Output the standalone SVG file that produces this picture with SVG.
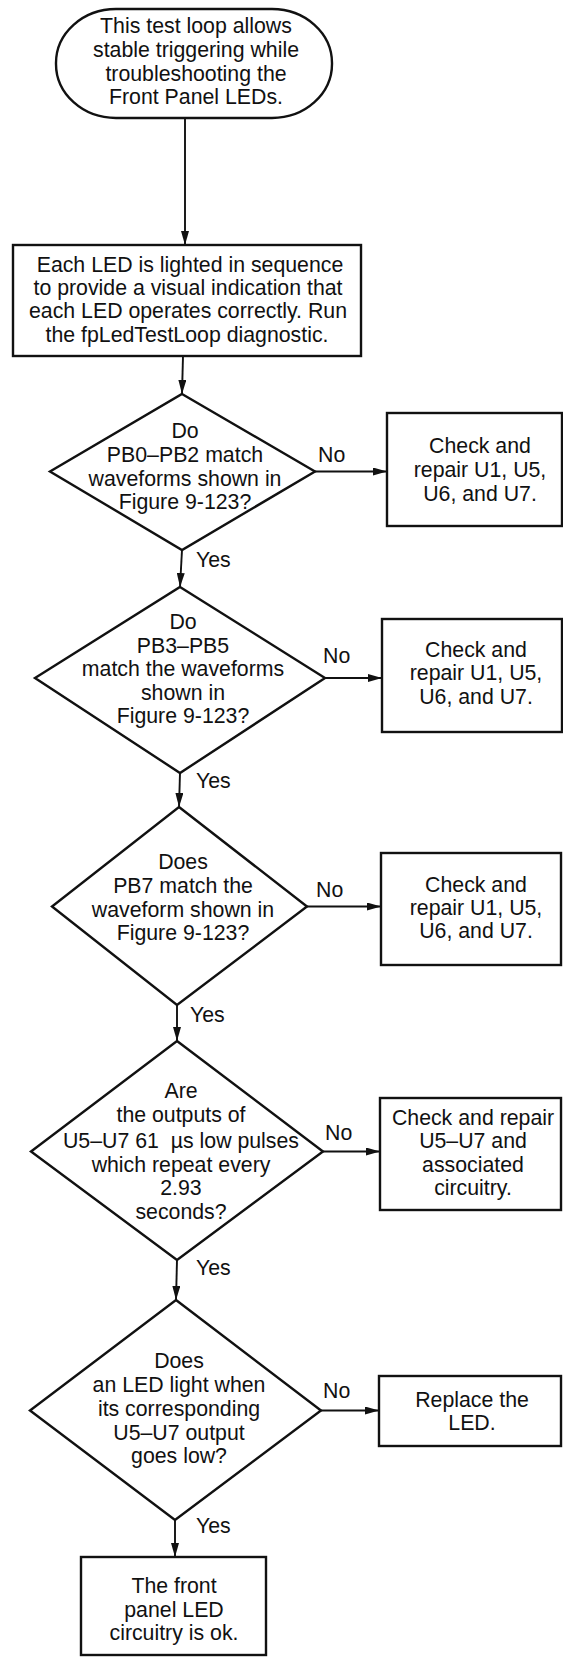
<svg xmlns="http://www.w3.org/2000/svg" width="563" height="1657" viewBox="0 0 563 1657">
<defs>
<style>
.shape{fill:#fff;stroke:#111;stroke-width:2.4}
.conn{fill:none;stroke:#111;stroke-width:1.9}
text{font-family:"Liberation Sans",Arial,Helvetica,sans-serif;font-size:21.3px;fill:#111;text-anchor:middle}
.lbl{text-anchor:start}
</style>
<marker id="ah" viewBox="0 0 14 8" refX="14" refY="4" markerWidth="14" markerHeight="8" markerUnits="userSpaceOnUse" orient="auto">
<path d="M0,0 L14,4 L0,8 Z" fill="#111"/>
</marker>
</defs>
<rect width="563" height="1657" fill="#fff"/>

<g id="connectors">
<path class="conn" d="M185,118 L185,245" marker-end="url(#ah)"/>
<path class="conn" d="M183,356 L182,394" marker-end="url(#ah)"/>
<path class="conn" d="M182,550 L180,587" marker-end="url(#ah)"/>
<path class="conn" d="M180,773 L179,807" marker-end="url(#ah)"/>
<path class="conn" d="M177,1005 L177,1041" marker-end="url(#ah)"/>
<path class="conn" d="M177,1260 L176,1300" marker-end="url(#ah)"/>
<path class="conn" d="M175,1520 L175,1557" marker-end="url(#ah)"/>
<path class="conn" d="M315,471.5 L387,471.5" marker-end="url(#ah)"/>
<path class="conn" d="M325,678 L382,678" marker-end="url(#ah)"/>
<path class="conn" d="M307,906.5 L381,906.5" marker-end="url(#ah)"/>
<path class="conn" d="M323,1151.5 L380,1151.5" marker-end="url(#ah)"/>
<path class="conn" d="M321,1410.5 L379,1410.5" marker-end="url(#ah)"/>
<text class="lbl" x="196" y="567">Yes</text>
<text class="lbl" x="196" y="788">Yes</text>
<text class="lbl" x="190" y="1022">Yes</text>
<text class="lbl" x="196" y="1275">Yes</text>
<text class="lbl" x="196" y="1533">Yes</text>
<text class="lbl" x="318" y="462">No</text>
<text class="lbl" x="323" y="663">No</text>
<text class="lbl" x="316" y="897">No</text>
<text class="lbl" x="325" y="1140">No</text>
<text class="lbl" x="323" y="1398">No</text>
</g>

<g id="start">
<rect class="shape" x="56" y="9" width="276" height="109" rx="60" ry="54"/>
<text x="196" y="33">This test loop allows</text>
<text x="196" y="57">stable triggering while</text>
<text x="196" y="81">troubleshooting the</text>
<text x="196" y="104">Front Panel LEDs.</text>
</g>

<g id="run_test">
<rect class="shape" x="13" y="245" width="348" height="111"/>
<text x="190" y="272">Each LED is lighted in sequence</text>
<text x="188" y="295">to provide a visual indication that</text>
<text x="188" y="318">each LED operates correctly. Run</text>
<text x="187" y="342">the fpLedTestLoop diagnostic.</text>
</g>

<g id="q_pb0_pb2">
<polygon class="shape" points="182,394 315,471.5 182,550 50,471.5"/>
<text x="185" y="438">Do</text>
<text x="185" y="462">PB0–PB2 match</text>
<text x="185" y="486">waveforms shown in</text>
<text x="185" y="509">Figure 9-123?</text>
</g>

<g id="fix1">
<rect class="shape" x="387" y="413" width="175" height="113"/>
<text x="480" y="453">Check and</text>
<text x="480" y="477">repair U1, U5,</text>
<text x="480" y="501">U6, and U7.</text>
</g>

<g id="q_pb3_pb5">
<polygon class="shape" points="180,587 325,678 180,773 35,678"/>
<text x="183" y="629">Do</text>
<text x="183" y="653">PB3–PB5</text>
<text x="183" y="676">match the waveforms</text>
<text x="183" y="700">shown in</text>
<text x="183" y="723">Figure 9-123?</text>
</g>

<g id="fix2">
<rect class="shape" x="382" y="619" width="180" height="113"/>
<text x="476" y="657">Check and</text>
<text x="476" y="680">repair U1, U5,</text>
<text x="476" y="704">U6, and U7.</text>
</g>

<g id="q_pb7">
<polygon class="shape" points="179,807 307,906.5 177,1005 52,906.5"/>
<text x="183" y="869">Does</text>
<text x="183" y="893">PB7 match the</text>
<text x="183" y="917">waveform shown in</text>
<text x="183" y="940">Figure 9-123?</text>
</g>

<g id="fix3">
<rect class="shape" x="381" y="853" width="180" height="112"/>
<text x="476" y="892">Check and</text>
<text x="476" y="915">repair U1, U5,</text>
<text x="476" y="938">U6, and U7.</text>
</g>

<g id="q_pulses">
<polygon class="shape" points="177,1041 323,1151.5 177,1260 31,1151.5"/>
<text x="181" y="1098">Are</text>
<text x="181" y="1122">the outputs of</text>
<text x="181" y="1148" xml:space="preserve">U5–U7 61  µs low pulses</text>
<text x="181" y="1172">which repeat every</text>
<text x="181" y="1195">2.93</text>
<text x="181" y="1219">seconds?</text>
</g>

<g id="fix4">
<rect class="shape" x="380" y="1098" width="181" height="112"/>
<text x="473" y="1125">Check and repair</text>
<text x="473" y="1148">U5–U7 and</text>
<text x="473" y="1172">associated</text>
<text x="473" y="1195">circuitry.</text>
</g>

<g id="q_led">
<polygon class="shape" points="176,1300 321,1410.5 175,1520 30,1410.5"/>
<text x="179" y="1368">Does</text>
<text x="179" y="1392">an LED light when</text>
<text x="179" y="1416">its corresponding</text>
<text x="179" y="1440">U5–U7 output</text>
<text x="179" y="1463">goes low?</text>
</g>

<g id="fix5">
<rect class="shape" x="379" y="1376" width="182" height="70"/>
<text x="472" y="1407">Replace the</text>
<text x="472" y="1430">LED.</text>
</g>

<g id="ok">
<rect class="shape" x="81" y="1557" width="185" height="98"/>
<text x="174" y="1593">The front</text>
<text x="174" y="1617">panel LED</text>
<text x="174" y="1640">circuitry is ok.</text>
</g>
</svg>
